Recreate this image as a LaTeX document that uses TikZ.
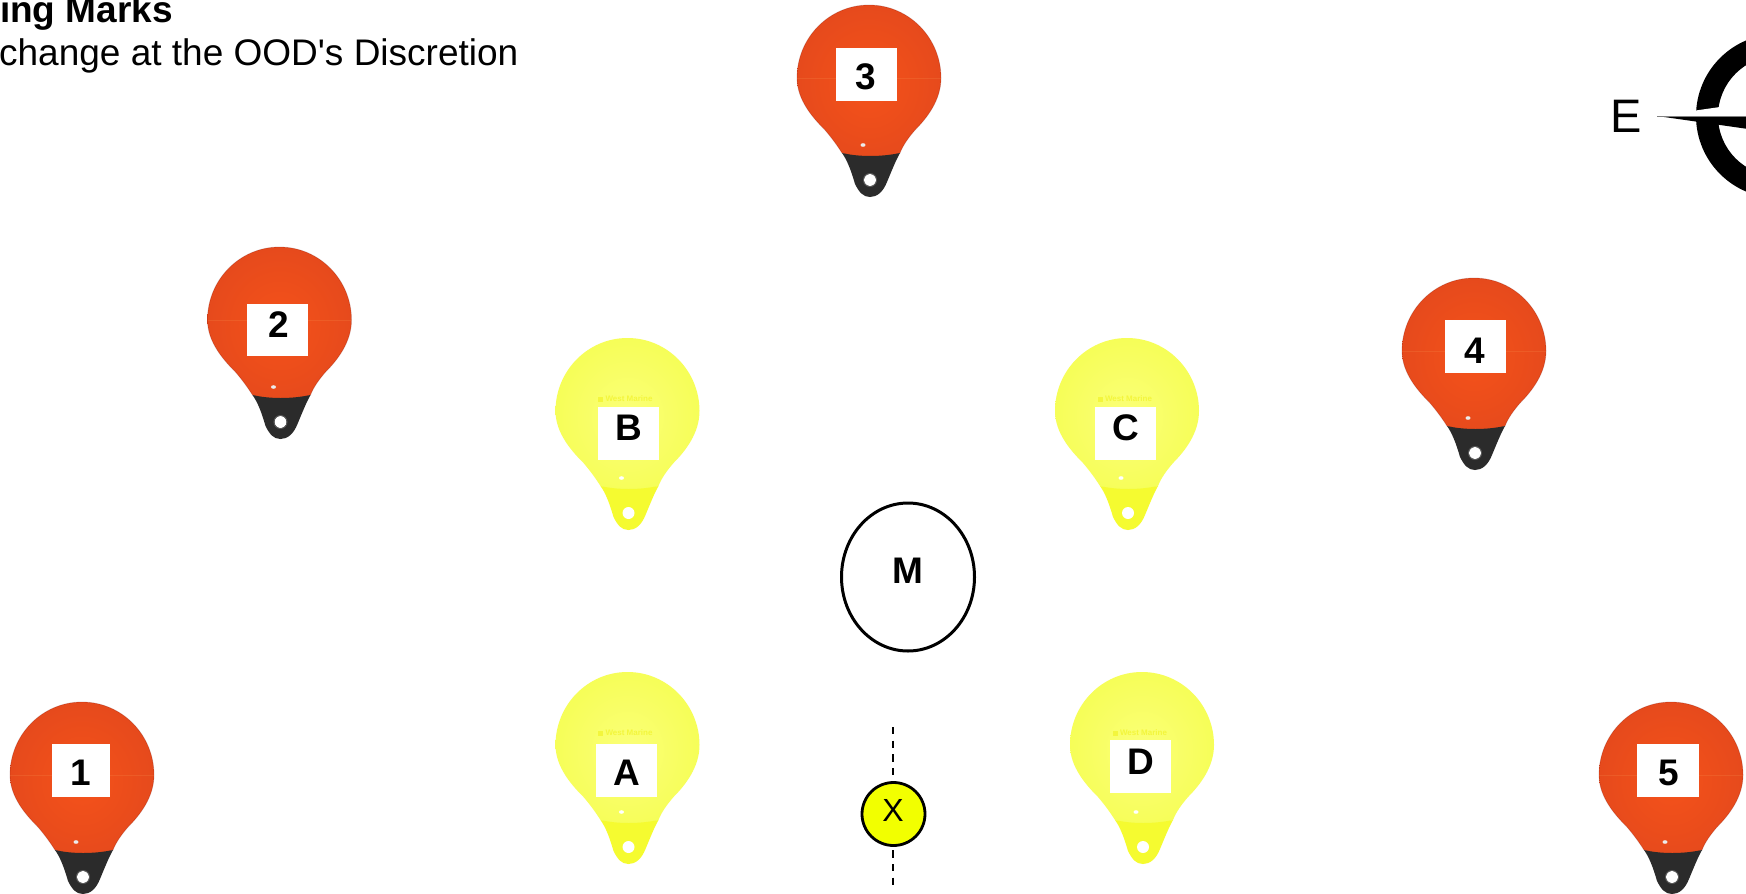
\documentclass[tikz,border=0pt]{standalone}
\usetikzlibrary{shapes.geometric}
\usepackage{fontspec}
\setmainfont{Liberation Sans}
\definecolor{orangein}{HTML}{F5521A}
\definecolor{orangeout}{HTML}{E64A1C}
\definecolor{buoyblack}{HTML}{2B2B2B}
\definecolor{yellowin}{HTML}{FBFF78}
\definecolor{yellowout}{HTML}{F6FE58}
\definecolor{yellowtail}{HTML}{F5FB30}
\definecolor{brandyellow}{HTML}{F3F63C}
\definecolor{markX}{HTML}{F2FF00}
\newcommand{\buoybody}{(-27,75) .. controls (-32,67) and (-38,59) .. (-44,52)
  .. controls (-56,40) and (-72,22) .. (-72,0)
  .. controls (-72,-40) and (-40,-73) .. (0,-73)
  .. controls (40,-73) and (72,-40) .. (72,0)
  .. controls (72,22) and (58,40) .. (46,52)
  .. controls (40,59) and (34,67) .. (31,75) -- (2,84) -- cycle}
\newcommand{\buoytail}{(-27,75) .. controls (-10,79) and (12,79) .. (31,75)
  .. controls (27,82) and (23,92) .. (18,104)
  .. controls (14,114) and (8,119) .. (1,119)
  .. controls (-6,119) and (-10,114) .. (-14,106)
  .. controls (-18,92) and (-22,82) .. (-27,75) -- cycle}
\newcommand{\redbuoy}[3]{%
  \begin{scope}[shift={(#2,#3)}]
    \shade[inner color=orangein,outer color=orangeout] \buoybody;
    \draw[black!60!red,opacity=.2,line width=.8pt] \buoybody;
    \draw[orange!60!white,opacity=.15,line width=.5pt] (-72,0) -- (72,0);
    \fill[buoyblack] \buoytail;
    \fill[white] (1,102) circle[radius=6pt];
    \draw[gray!70!black,line width=.8pt] (1,102) circle[radius=6.6pt];
    \fill[white!85!gray] (-6,67) ellipse[x radius=2.5pt,y radius=1.8pt];
    \coordinate (#1) at (0,0);
  \end{scope}}
\newcommand{\yellowbuoy}[3]{%
  \begin{scope}[shift={(#2,#3)}]
    \shade[inner color=yellowin,outer color=yellowout] \buoybody;
    \fill[yellowtail] \buoytail;
    \fill[white] (1,102) circle[radius=6pt];
    \fill[white] (-6,67) ellipse[x radius=2.5pt,y radius=1.8pt];
    \fill[brandyellow] (-29.5,-14.5) rectangle (-24.5,-9.5);
    \node[brand] (#1brand) at (1.5,-12) {West Marine};
    \coordinate (#1) at (0,0);
  \end{scope}}
\newcommand{\plate}[6]{%
  \fill[white] (#2,#3) rectangle (#4,#5);
  \node[marklabel] (#1) at (#6) {#1};}
\tikzset{
  marklabel/.style={inner sep=0pt,font=\fontsize{37}{37}\selectfont\bfseries,text=black},
  brand/.style={inner sep=0pt,font=\fontsize{8}{8}\selectfont\bfseries,text=brandyellow},
  titlebold/.style={inner sep=0pt,anchor=base east,font=\fontsize{37}{37}\selectfont\bfseries},
  titleplain/.style={inner sep=0pt,anchor=base east,font=\fontsize{37}{37}\selectfont},
}
\begin{document}
\begin{tikzpicture}[x=1pt,y=-1pt]
\clip (0,0) rectangle (1746,894);
\fill[white] (0,0) rectangle (1746,894);
\node[titlebold] (title) at (173,22.4) {ing Marks};
\node[titleplain] (subtitle) at (518.5,65.5) {change at the OOD\textquotesingle s Discretion};
% red buoys
\redbuoy{b3}{869}{78}
\plate{3}{836}{48}{897}{101}{866,77}
\redbuoy{b2}{279.5}{320}
\plate{2}{247}{304}{308}{356}{279,325}
\redbuoy{b4}{1474}{351}
\plate{4}{1445}{320}{1506}{373}{1475,351}
\redbuoy{b1}{82}{775}
\plate{1}{52}{744}{110}{797}{81,773}
\redbuoy{b5}{1671}{775}
\plate{5}{1637}{744}{1699}{797}{1669,773}
% yellow buoys
\yellowbuoy{bB}{627.5}{411}
\plate{B}{598}{407}{659}{460}{629,428}
\yellowbuoy{bC}{1127}{411}
\plate{C}{1095}{407}{1156}{460}{1126,428}
\yellowbuoy{bA}{627.5}{745}
\plate{A}{596}{744}{657}{797}{627,773}
\yellowbuoy{bD}{1142}{745}
\plate{D}{1110}{740}{1171}{793}{1141,762}
% centre mark
\node[ellipse,draw=black,line width=3pt,fill=white,minimum width=133pt,minimum height=148pt,inner sep=0pt] (Mring) at (908,577) {};
\node[marklabel] (M) at (907.5,571) {M};
% finish line and X
\coordinate (lineTop) at (892.7,727);
\coordinate (lineBot) at (892.7,888);
\draw[black,line width=2pt,dash pattern=on 7.2pt off 6.5pt] (lineTop) -- (lineBot);
\node[circle,draw=black,line width=2.8pt,fill=markX,minimum size=63pt,inner sep=0pt] (Xc) at (893.5,814) {};
\node[inner sep=0pt,font=\fontsize{32}{32}\selectfont] (X) at (893,810) {X};
% compass
\node[inner sep=0pt,font=\fontsize{47}{47}\selectfont] (E) at (1626,116) {E};
\fill[black,even odd rule] (1778,116) circle[radius=82pt] (1778,116) circle[radius=60pt];
\fill[white] (1657,116) -- (1790,97) -- (1790,116) -- cycle;
\fill[black] (1657,116) -- (1790,135) -- (1790,116) -- cycle;
\draw[gray,line width=.6pt] (1657,116) -- (1790,116);
\end{tikzpicture}
\end{document}
